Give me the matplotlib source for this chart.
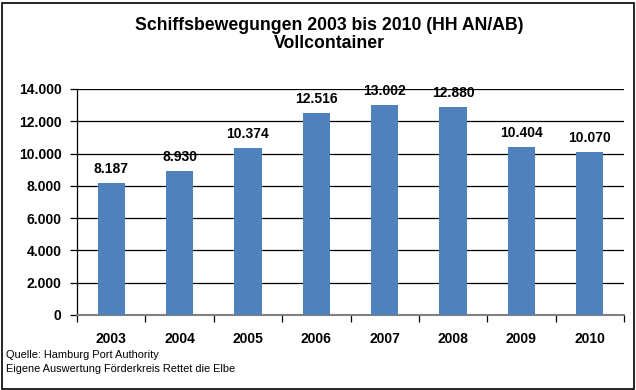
import matplotlib
matplotlib.use("Agg")
import matplotlib.pyplot as plt
from matplotlib.patches import Rectangle
from matplotlib.ticker import FuncFormatter, MultipleLocator

years = ["2003", "2004", "2005", "2006", "2007", "2008", "2009", "2010"]
values = [8187, 8930, 10374, 12516, 13002, 12880, 10404, 10070]
title = "Schiffsbewegungen 2003 bis 2010 (HH AN/AB)\nVollcontainer"
source_lines = ["Quelle: Hamburg Port Authority",
                "Eigene Auswertung Förderkreis Rettet die Elbe"]

plt.rcParams['font.family'] = ['Liberation Sans', 'DejaVu Sans']

W, H = 636, 390
fig = plt.figure(figsize=(W / 100, H / 100), dpi=100)
ax = fig.add_axes([77 / W, 1 - 315 / H, (624 - 77) / W, (315 - 89) / H])

def fmt(v):
    return f"{int(round(v)):,}".replace(",", ".")

x = list(range(len(years)))
bars = ax.bar(x, values, width=0.4, color="#4F81BD", zorder=3)
for xi, v in zip(x, values):
    ax.annotate(fmt(v), (xi, v), xytext=(0, 5), textcoords="offset points",
                ha="center", va="bottom", fontsize=10, fontweight="bold")

ax.set_xlim(-0.5, len(years) - 0.5)
ax.set_ylim(0, 14000)
ax.yaxis.set_major_locator(MultipleLocator(2000))
ax.yaxis.set_major_formatter(FuncFormatter(lambda v, p: fmt(v)))
ax.grid(axis="y", color="black", linewidth=0.9, zorder=0)

ax.set_xticks([i + 0.5 for i in range(-1, len(years))], minor=False)
ax.set_xticklabels([])
ax.set_xticks(x, minor=True)
ax.set_xticklabels(years, minor=True, fontsize=10, fontweight="bold")
ax.tick_params(axis="x", which="minor", length=0, pad=12)
ax.tick_params(axis="x", which="major", length=5, width=0.9, color="black", direction="out")
ax.tick_params(axis="y", length=5, width=0.9, direction="out", labelsize=10, pad=6)
for lbl in ax.get_yticklabels():
    lbl.set_fontweight("bold")

for s in ["top", "right"]:
    ax.spines[s].set_visible(False)
ax.spines["left"].set_color("black")
ax.spines["left"].set_linewidth(0.9)
ax.spines["bottom"].set_color("#808080")
ax.spines["bottom"].set_linewidth(1.5)

fig.text(329 / W, 1 - 34.5 / H, title, ha="center", va="center",
         fontsize=12.7, fontweight="bold", linespacing=1.1)
fig.text(6 / W, 1 - 355 / H, source_lines[0], ha="left", va="center", fontsize=7.9)
fig.text(6 / W, 1 - 369 / H, source_lines[1], ha="left", va="center", fontsize=7.9)

fig.patches.append(Rectangle((1.5 / W, 1.5 / H), (W - 4) / W, (H - 4) / H,
                             transform=fig.transFigure, fill=False,
                             edgecolor="black", linewidth=1.2))

fig.savefig("out.png", dpi=100, facecolor="white")
